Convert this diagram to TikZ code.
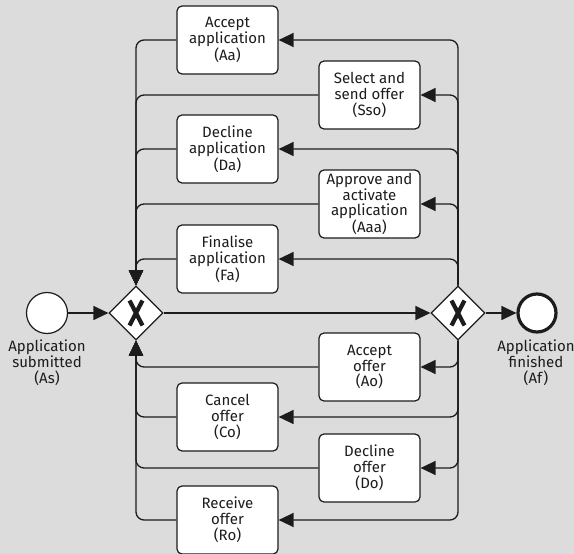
\documentclass[tikz,border=0pt]{standalone}
\usepackage{fontspec}
\setmainfont{Fira Sans}
\usetikzlibrary{arrows.meta,shapes.geometric}
\definecolor{bgc}{RGB}{220,220,220}
\definecolor{ink}{RGB}{28,28,28}
\begin{document}
\begin{tikzpicture}[x=1pt,y=-1pt,
  txt/.style={font=\fontsize{15}{15.8}\selectfont, text=ink, align=center},
  task/.style={txt, draw=ink, fill=white, rounded corners=5pt, line width=1.2pt,
    minimum width=101pt, minimum height=68pt, inner sep=0pt},
  gate/.style={diamond, draw=ink, fill=white, line width=1.2pt,
    minimum width=54pt, minimum height=54pt, inner sep=0pt},
  xmark/.style={draw=ink, line width=4.2pt},
  startev/.style={circle, draw=ink, fill=white, line width=1.2pt, minimum size=41pt, inner sep=0pt},
  endev/.style={circle, draw=ink, fill=white, line width=3.2pt, minimum size=38pt, inner sep=0pt},
  flow/.style={draw=ink, line width=1.3pt, rounded corners=8pt,
    -{Triangle[length=15pt,width=14pt]}}
]
% canvas
\fill[bgc] (0,0) rectangle (574,554);
\useasboundingbox (0,0) rectangle (574,554);

% events and gateways
\node[startev] (S) at (47,313) {};
\node[gate] (gL) at (136,313) {};
\node[gate] (gR) at (458,313) {};
\node[endev] (E) at (537,313) {};
\foreach \g in {gL,gR} {
  \draw[xmark] ([shift={(-6.5,-12.5)}]\g.center) -- ([shift={(6.5,12.5)}]\g.center);
  \draw[xmark] ([shift={(6.5,-12.5)}]\g.center) -- ([shift={(-6.5,12.5)}]\g.center);
}
\node[txt] (Slbl) at (47,363) {Application\\submitted\\(As)};
\node[txt] (Elbl) at (536,363) {Application\\finished\\(Af)};

% activities
\node[task] (Aa)  at (227.5,40)  {Accept\\application\\(Aa)};
\node[task] (Sso) at (369.5,95)  {Select and\\send offer\\(Sso)};
\node[task] (Da)  at (227.5,149) {Decline\\application\\(Da)};
\node[task] (Aaa) at (369.5,204) {Approve and\\activate\\application\\(Aaa)};
\node[task] (Fa)  at (227.5,259) {Finalise\\application\\(Fa)};
\node[task] (Ao)  at (369.5,367) {Accept\\offer\\(Ao)};
\node[task] (Co)  at (227.5,417) {Cancel\\offer\\(Co)};
\node[task] (Do)  at (369.5,468) {Decline\\offer\\(Do)};
\node[task] (Ro)  at (227.5,520) {Receive\\offer\\(Ro)};

% main sequence
\draw[flow] (S) -- (gL);
\draw[flow] (gL) -- (gR);
\draw[flow] (gR) -- (E);

% loops above the main line
\foreach \t in {Aa,Sso,Da,Aaa,Fa} {
  \draw[flow] (gR.north) |- (\t.east);
  \draw[flow] (\t.west) -| (gL.north);
}
% loops below the main line
\foreach \t in {Ao,Co,Do,Ro} {
  \draw[flow] (gR.south) |- (\t.east);
  \draw[flow] (\t.west) -| (gL.south);
}
\end{tikzpicture}
\end{document}
